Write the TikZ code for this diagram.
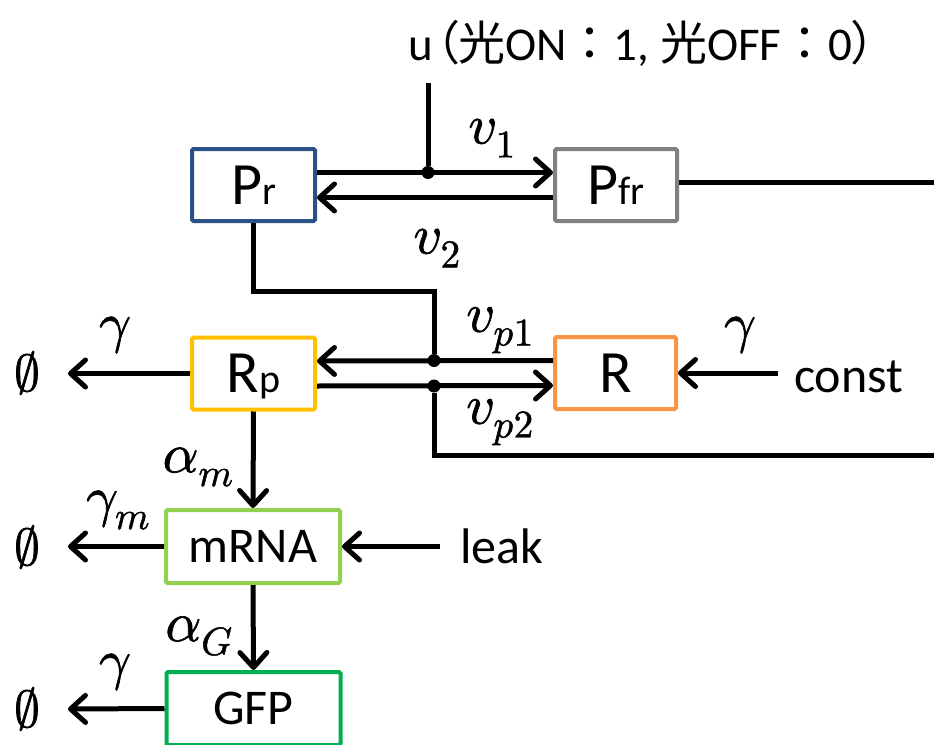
\documentclass[tikz,border=0pt]{standalone}
\usepackage{fontspec}
\usepackage{unicode-math}
\setmainfont{Carlito}
\setmathfont{Latin Modern Math}[FakeBold=1.2]
\newfontfamily\jpfont[RawFeature=+palt]{Noto Sans CJK JP}
\newfontfamily\jpfull{Noto Sans CJK JP}
\usetikzlibrary{arrows.meta}
\definecolor{cPr}{HTML}{2A5287}
\definecolor{cPfr}{HTML}{808080}
\definecolor{cRp}{HTML}{FFC000}
\definecolor{cR}{HTML}{F79646}
\definecolor{cmRNA}{HTML}{92D050}
\definecolor{cGFP}{HTML}{00B050}
\tikzset{
  arr/.tip={Straight Barb[length=15pt,width=27pt,round]},
  ln/.style={line width=5pt},
  box/.style={draw, line width=4pt, rounded corners=1.5pt, fill=white, inner sep=0pt,
    minimum width=123pt, minimum height=72pt},
  bigtxt/.style={font=\fontsize{60}{60}\selectfont, text height=38.6pt, text depth=0pt},
  midtxt/.style={font=\fontsize{50}{50}\selectfont, text height=32pt, text depth=0pt},
  wide/.style={minimum width=174pt, minimum height=73pt},
  lbl/.style={inner sep=0pt, font=\fontsize{56}{56}\selectfont},
  nul/.style={inner sep=0pt, font=\fontsize{52}{52}\selectfont},
  plain/.style={inner sep=0pt, anchor=base west, font=\fontsize{50}{50}\selectfont},
  dot/.style={circle, fill=black, inner sep=0pt, minimum size=13pt}
}
\newcommand{\smallsub}[1]{{\fontsize{40}{40}\selectfont #1}}
\begin{document}
\begin{tikzpicture}[x=1pt,y=-1pt]
\useasboundingbox (0,0) rectangle (934,744);
\clip (0,0) rectangle (934,744);

% boxes
\node[box, bigtxt, draw=cPr]  (Pr)   at (253.5,185)   {P\smallsub{r}};
\node[box, bigtxt, draw=cPfr, minimum width=122pt] (Pfr)  at (616,185) {P\smallsub{fr}};
\node[box, bigtxt, draw=cRp]  (Rp)   at (253.5,373.5) {R\smallsub{p}};
\node[box, bigtxt, draw=cR, minimum width=121pt]   (R)    at (615.5,373) {R};
\node[box, midtxt, wide, draw=cmRNA] (mRNA) at (253,546.5) {mRNA};
\node[box, midtxt, wide, draw=cGFP]  (GFP)  at (253.5,708.5) {GFP};

% title
\node[plain, font=\fontsize{47}{47}\selectfont] (u) at (408,60)
  {u\kern2pt\jpfont（光\rmfamily ON\jpfull：\rmfamily 1, \jpfont 光\rmfamily OFF\jpfull：\rmfamily 0\jpfont）};

% coordinates
\coordinate (utop) at (428,83);
\coordinate (rA) at (940,182);
\coordinate (k1) at (434,291);
\coordinate (rB) at (940,455);
\coordinate (e1) at (68,373.5);
\coordinate (e2) at (68,546.5);
\coordinate (e3) at (68,709);
\coordinate (cst) at (778,373);
\coordinate (lk) at (440,546.5);

% dots
\node[dot] (d1) at (428,172.5) {};
\node[dot] (d2) at (434,360.5) {};
\node[dot] (d3) at (434,386) {};

% Pr <-> Pfr
\draw[ln] (utop) -- (d1);
\draw[ln,-{arr}] ([yshift=12.5pt]Pr.east) -- ([yshift=12.5pt]Pfr.west);
\draw[ln,-{arr}] ([yshift=-12.5pt]Pfr.west) -- ([yshift=-12.5pt]Pr.east);
\draw[ln] (Pfr.east |- rA) -- (rA);
\draw[ln] (Pr.south) |- (k1) -- (d2);

% Rp <-> R
\draw[ln,-{arr}] ([yshift=12.5pt]R.west) -- ([yshift=12.5pt]Rp.east);
\draw[ln,-{arr}] ([yshift=-12.5pt]Rp.east) -- ([yshift=-12.5pt]R.west);
\draw[ln] (d3) |- (rB);
\draw[ln,-{arr}] (cst) -- (R.east);
\draw[ln,-{arr}] (Rp.west) -- (e1);

% mRNA, GFP
\draw[ln,-{arr}] (Rp.south) -- (mRNA.north);
\draw[ln,-{arr}] (mRNA.west) -- (e2);
\draw[ln,-{arr}] (lk) -- (mRNA.east);
\draw[ln,-{arr}] (mRNA.south) -- (GFP.north);
\draw[ln,-{arr}] (GFP.west) -- (e3);

% texts
\node[plain] (const) at (794,392) {const};
\node[plain] (leak) at (460,563) {leak};
\node[nul] (n1) at (27,373) {$\emptyset$};
\node[nul] (n2) at (27,547) {$\emptyset$};
\node[nul] (n3) at (27,709) {$\emptyset$};

% labels
\node[lbl] (v1) at (492,138) {$v_1$};
\node[lbl] (v2) at (437,248) {$v_2$};
\node[lbl] (vp1) at (500,330) {$v_{p1}$};
\node[lbl] (vp2) at (500,422) {$v_{p2}$};
\node[lbl] (gR) at (740,335) {$\gamma$};
\node[lbl] (gRp) at (115,335) {$\gamma$};
\node[lbl] (am) at (198,467) {$\alpha_m$};
\node[lbl] (gm) at (118,510) {$\gamma_m$};
\node[lbl] (aG) at (199,636) {$\alpha_G$};
\node[lbl] (gG) at (115,672) {$\gamma$};
\end{tikzpicture}
\end{document}
